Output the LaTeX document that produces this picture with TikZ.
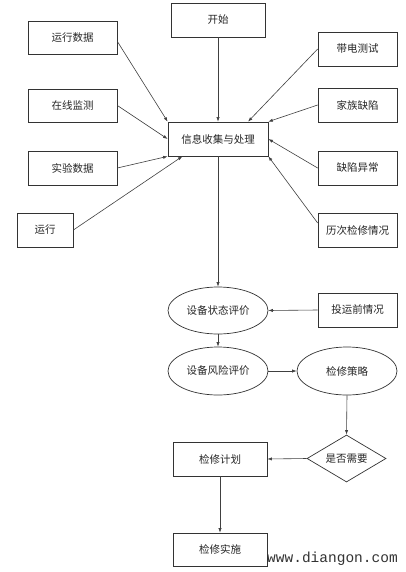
\documentclass[tikz,border=0pt]{standalone}
\usepackage{fontspec}
\newfontfamily\cjk{Noto Sans CJK SC}
\newfontfamily\wmfont{Liberation Mono}
\usetikzlibrary{arrows.meta,shapes.geometric}
\begin{document}
\begin{tikzpicture}[x=1pt,y=-1pt,
  every node/.style={font=\cjk\fontsize{10.5}{12}\selectfont, inner sep=0pt, text=black!85},
  box/.style={draw=black!80, line width=0.7pt, rectangle, minimum width=#1, minimum height=34},
  box/.default=79,
  oval/.style={draw=black!80, line width=0.7pt, ellipse, minimum width=100, minimum height=47},
  dia/.style={draw=black!80, line width=0.7pt, diamond, minimum width=79, minimum height=47, aspect=1.68},
  arr/.style={draw=black!75, line width=0.6pt, -{Latex[length=4.5pt,width=3.2pt]}}]
\useasboundingbox (0,0) rectangle (406,572);
\fill[white] (0,0) rectangle (406,572);
% nodes
\node[box=94] (start) at (218,20) {开始};
\node[box=89, minimum height=33] (d1) at (72.5,37.5) {运行数据};
\node[box=89, minimum height=33] (d2) at (72.5,105.5) {在线监测};
\node[box=89] (d3) at (72.5,168) {实验数据};
\node[box=56] (run) at (45,230) {运行};
\node[box=100] (info) at (218,139) {信息收集与处理};
\node[box] (e1) at (357.5,49) {带电测试};
\node[box] (e2) at (357.5,105) {家族缺陷};
\node[box] (e3) at (357.5,168) {缺陷异常};
\node[box] (e4) at (357.5,230) {历次检修情况};
\node[oval] (state) at (218,310.5) {设备状态评价};
\node[box] (pre) at (357.5,310) {投运前情况};
\node[oval, minimum height=48] (risk) at (218,371) {设备风险评价};
\node[oval, minimum height=48] (strat) at (347,371) {检修策略};
\node[dia] (need) at (346.5,458.5) {是否需要};
\node[box=94] (plan) at (220,459) {检修计划};
\node[box=94, minimum height=33] (impl) at (220,549.5) {检修实施};
\node[font=\wmfont\fontsize{14.5}{16}\selectfont, text=black!80, anchor=base west] (wm) at (267,562) {www.diangon.com};
% connectors
\draw[arr] (start.south) -- (info.north);
\draw[arr] (d1.-5) -- (info.north west);
\draw[arr] (d2.east) -- (info.west);
\draw[arr] (d3.east) -- (info.south west);
\draw[arr] (run.east) -- (info.-154);
\draw[arr] (e1.west) -- (info.30);
\draw[arr] (e2.west) -- (info.north east);
\draw[arr] (e3.west) -- (info.east);
\draw[arr] (e4.170) -- (info.south east);
\draw[arr] (info.south) -- (state.north);
\draw[arr] (pre.west) -- (state.east);
\draw[arr] (state.south) -- (risk.north);
\draw[arr] (risk.east) -- (strat.west);
\draw[arr] (strat.south) -- (need.north);
\draw[arr] (need.west) -- (plan.east);
\draw[arr] (plan.south) -- (impl.north);
\end{tikzpicture}
\end{document}
